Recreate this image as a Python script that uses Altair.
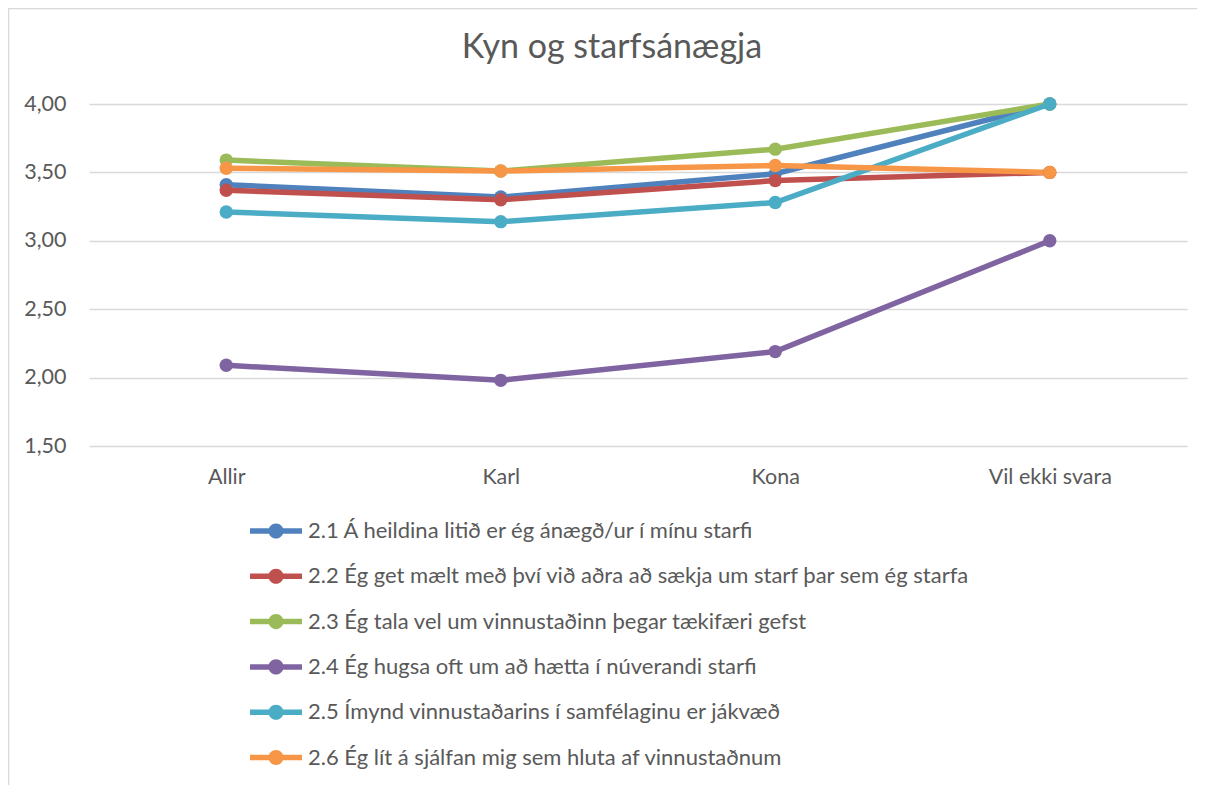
import altair as alt
import pandas as pd

title_text = ["Kyn og starfsánægja"]
categories = ["Allir", "Karl", "Kona", "Vil ekki svara"]
series_names = [
    "2.1 Á heildina litið er ég ánægð/ur í mínu starfi",
    "2.2 Ég get mælt með því við aðra að sækja um starf þar sem ég starfa",
    "2.3 Ég tala vel um vinnustaðinn þegar tækifæri gefst",
    "2.4 Ég hugsa oft um að hætta í núverandi starfi",
    "2.5 Ímynd vinnustaðarins í samfélaginu er jákvæð",
    "2.6 Ég lít á sjálfan mig sem hluta af vinnustaðnum",
]
s21 = [3.41, 3.32, 3.49, 4.00]
s22 = [3.37, 3.30, 3.44, 3.50]
s23 = [3.59, 3.51, 3.67, 4.00]
s24 = [2.09, 1.98, 2.19, 3.00]
s25 = [3.21, 3.14, 3.28, 4.00]
s26 = [3.53, 3.51, 3.55, 3.50]
colors = ["#4F81BD", "#C0504D", "#9BBB59", "#8064A2", "#4BACC6", "#F79646"]

rows = []
for i, (name, vals) in enumerate(zip(series_names, [s21, s22, s23, s24, s25, s26])):
    for c, v in zip(categories, vals):
        rows.append({"series": name, "order": i, "cat": c, "value": v})
df = pd.DataFrame(rows)

FONT = "Lato"
GREY = "#595959"

x = alt.X("cat:N", sort=categories, title=None,
          scale=alt.Scale(type="point", padding=0.5),
          axis=alt.Axis(labelAngle=0, ticks=False, domain=False, grid=False,
                        labelFontSize=21.5, labelColor=GREY, labelFont=FONT,
                        labelPadding=20))
y = alt.Y("value:Q", title=None,
          scale=alt.Scale(domain=[1.5, 4.0], nice=False, zero=False),
          axis=alt.Axis(values=[1.5, 2.0, 2.5, 3.0, 3.5, 4.0], ticks=False, domain=False,
                        gridColor="#D9D9D9", gridWidth=1.5,
                        labelExpr="replace(format(datum.value, '.2f'), '.', ',')",
                        labelFontSize=21.5, labelColor=GREY, labelFont=FONT,
                        labelPadding=23))

legend_path = ("M-1,-0.105H1V0.105H-1Z "
               "M-0.29,0 A0.29,0.29 0 1,1 0.29,0 A0.29,0.29 0 1,1 -0.29,0Z")

color = alt.Color("series:N", sort=series_names,
                  scale=alt.Scale(domain=series_names, range=colors),
                  legend=alt.Legend(title=None, orient="none", legendX=161, legendY=401,
                                    direction="vertical", symbolType=legend_path,
                                    symbolSize=2700, symbolStrokeWidth=0,
                                    labelFontSize=22, labelColor=GREY, labelFont=FONT,
                                    labelOffset=6, rowPadding=8.3, padding=0,
                                    labelLimit=900))

base = alt.Chart(df)
lines = base.mark_line(strokeWidth=5.5).encode(x=x, y=y, color=color,
                                                order=alt.Order("order:Q"))
points = base.mark_point(filled=True, size=180, opacity=1).encode(
    x=x, y=y, color=alt.Color("series:N", sort=series_names,
                              scale=alt.Scale(domain=series_names, range=colors), legend=None),
    order=alt.Order("order:Q"))

frame = alt.Chart(pd.DataFrame({"a": [0]})).mark_rect(
    fill=None, stroke="#D9D9D9", strokeWidth=1.5).encode(
    x=alt.value(-80.5), x2=alt.value(1116), y=alt.value(-95.5), y2=alt.value(800))

title = alt.Chart(pd.DataFrame({"t": title_text})).mark_text(
    font=FONT, fontSize=34, color=GREY, align="center", baseline="alphabetic").encode(
    text="t:N", x=alt.value(523), y=alt.value(-46))

chart = alt.layer(frame, title, lines, points).properties(
    width=1098, height=342,
    autosize=alt.AutoSizeParams(type="none"),
    padding={"left": 81, "top": 96, "right": 10, "bottom": 360},
).configure_view(stroke=None)

chart.save("out.html", embed_options={"renderer": "svg", "actions": False})
